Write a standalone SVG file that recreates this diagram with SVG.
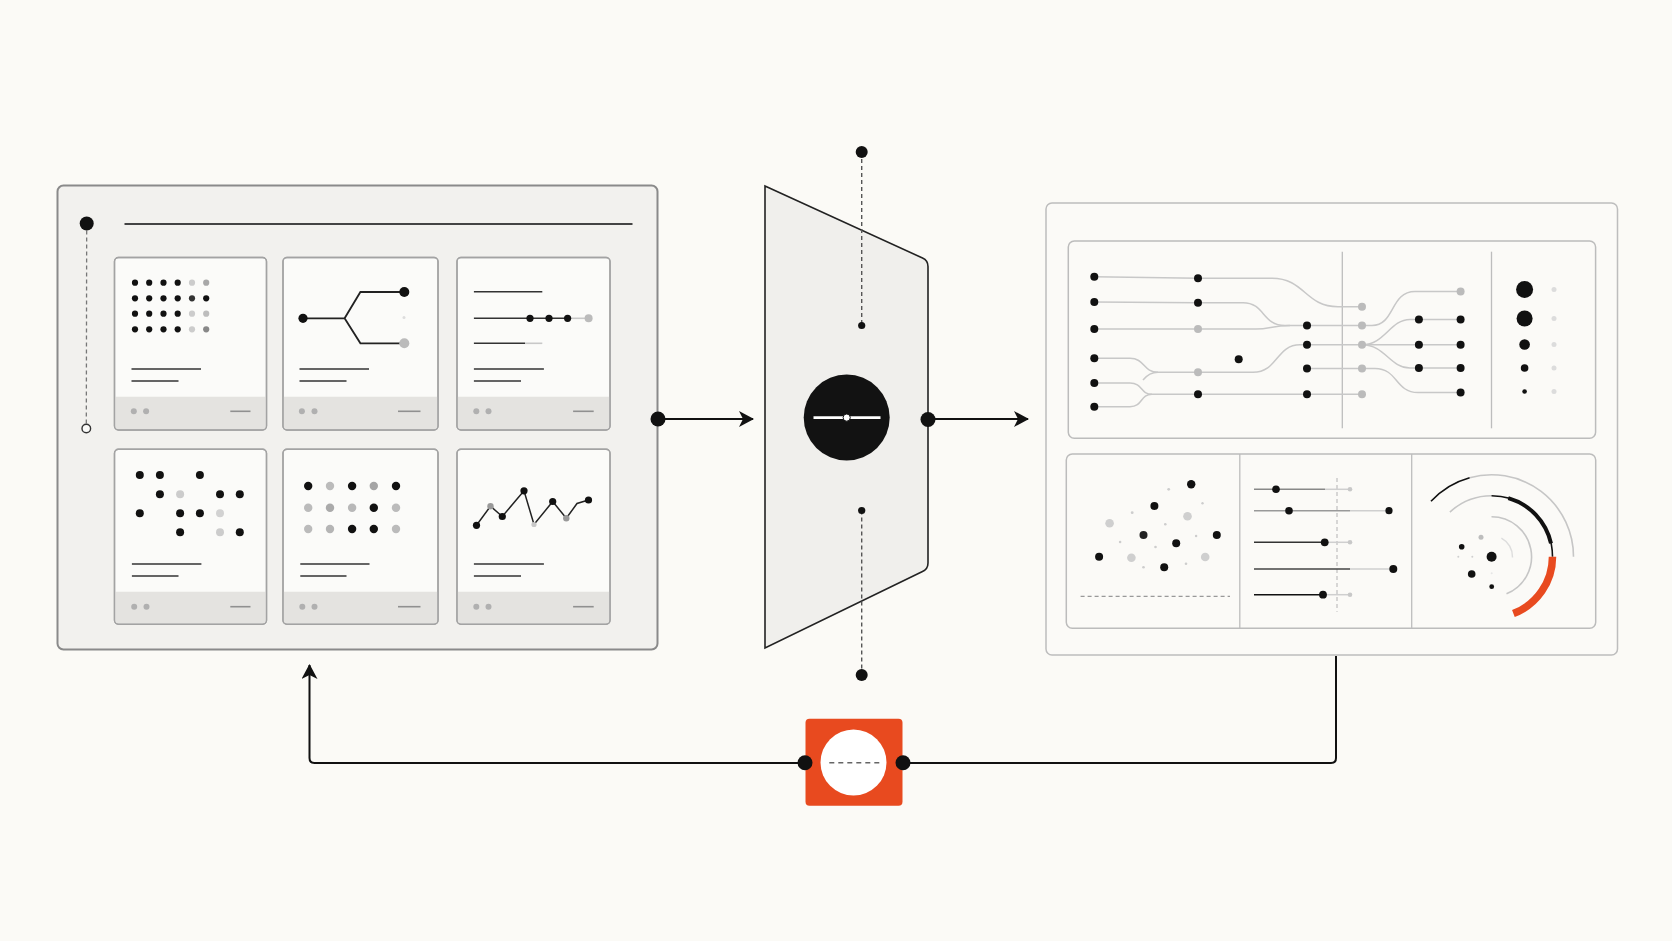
<svg xmlns="http://www.w3.org/2000/svg" width="1672" height="941" viewBox="0 0 1672 941">
<defs>
<marker id="arr" viewBox="0 0 16 16" refX="14" refY="8" markerWidth="16" markerHeight="16" markerUnits="userSpaceOnUse" orient="auto">
<path d="M0,0 L15,8 L0,16 L4,8 Z" fill="#111"/>
</marker>
<style>
.bg{fill:#fbfaf6}
.panel{fill:#f2f1ee;stroke:#8a8a8a;stroke-width:2}
.card{fill:#fbfbf9;stroke:#a3a3a3;stroke-width:1.4}
.foot{fill:#e4e3e0}
.tl{stroke:#333;stroke-width:1.6;fill:none}
.fd{fill:#b0b0b0}
.fl{stroke:#909090;stroke-width:1.6}
.k{fill:#111}
.g1{fill:#bbbbbb}
.g2{fill:#cfcfcf}
.conn{stroke:#111;stroke-width:2;fill:none}
.dash{stroke:#555;stroke-width:1.4;stroke-dasharray:4 3;fill:none}
.rp{fill:#fbfaf7;stroke:#bdbdbd;stroke-width:1.5}
.ip{fill:#fbfaf7;stroke:#bcbcbc;stroke-width:1.5}
.cv{stroke:#c8c8c8;stroke-width:1.5;fill:none}
.div{stroke:#bdbdbd;stroke-width:1.3}
</style>
</defs>
<rect class="bg" x="0" y="0" width="1672" height="941"/>

<g id="connectors">
<line class="conn" x1="658" y1="419" x2="753" y2="419" marker-end="url(#arr)"/>
<line class="conn" x1="928" y1="419" x2="1028" y2="419" marker-end="url(#arr)"/>
<path class="conn" d="M1336,656 V758 Q1336,763 1331,763 H903"/>
<path class="conn" d="M805,763 H314.5 Q309.5,763 309.5,758 V665" marker-end="url(#arr)"/>
</g>

<g id="source-panel">
<rect class="panel" x="57.5" y="185.5" width="600" height="464" rx="6"/>
<line x1="86.7" y1="223.5" x2="86.3" y2="428" stroke="#777" stroke-width="1.3" stroke-dasharray="4 3"/>
<circle class="k" cx="86.7" cy="223.5" r="7"/>
<circle cx="86.3" cy="428.5" r="4.3" fill="#fbfbf9" stroke="#333" stroke-width="1.4"/>
<line x1="124.5" y1="224" x2="632.5" y2="224" stroke="#444" stroke-width="2"/>
<circle class="k" cx="658" cy="419" r="7.5"/>
</g>

<g id="card-grid">
<rect class="card" x="114.5" y="257.5" width="152" height="172.5" rx="4"/>
<path class="foot" d="M115.2,396.7 H265.8 V426 Q265.8,429.3 262.5,429.3 H118.5 Q115.2,429.3 115.2,426 Z"/>
<rect x="114.5" y="257.5" width="152" height="172.5" rx="4" fill="none" stroke="#a3a3a3" stroke-width="1.4"/>
<g>
<circle class="k" cx="135" cy="282.7" r="3.1"/><circle class="k" cx="149.2" cy="282.7" r="3.1"/><circle class="k" cx="163.5" cy="282.7" r="3.1"/><circle class="k" cx="177.7" cy="282.7" r="3.1"/><circle fill="#cccccc" cx="192" cy="282.7" r="3.1"/><circle fill="#a8a8a8" cx="206.2" cy="282.7" r="3.1"/>
<circle class="k" cx="135" cy="298.3" r="3.1"/><circle class="k" cx="149.2" cy="298.3" r="3.1"/><circle class="k" cx="163.5" cy="298.3" r="3.1"/><circle class="k" cx="177.7" cy="298.3" r="3.1"/><circle fill="#333" cx="192" cy="298.3" r="3.1"/><circle class="k" cx="206.2" cy="298.3" r="3.1"/>
<circle class="k" cx="135" cy="313.7" r="3.1"/><circle class="k" cx="149.2" cy="313.7" r="3.1"/><circle class="k" cx="163.5" cy="313.7" r="3.1"/><circle class="k" cx="177.7" cy="313.7" r="3.1"/><circle fill="#cccccc" cx="192" cy="313.7" r="3.1"/><circle fill="#bdbdbd" cx="206.2" cy="313.7" r="3.1"/>
<circle class="k" cx="135" cy="329.3" r="3.1"/><circle class="k" cx="149.2" cy="329.3" r="3.1"/><circle class="k" cx="163.5" cy="329.3" r="3.1"/><circle class="k" cx="177.7" cy="329.3" r="3.1"/><circle fill="#cccccc" cx="192" cy="329.3" r="3.1"/><circle fill="#888" cx="206.2" cy="329.3" r="3.1"/>
</g>
<line class="tl" x1="131.5" y1="369" x2="201" y2="369"/><line class="tl" x1="131.5" y1="381" x2="178.5" y2="381"/>
<circle class="fd" cx="133.8" cy="411.3" r="3"/><circle class="fd" cx="146.1" cy="411.3" r="3"/><line class="fl" x1="230.3" y1="411.3" x2="250.5" y2="411.3"/>
</g>

<g id="card-branch">
<rect class="card" x="283" y="257.5" width="155" height="172.5" rx="4"/>
<path class="foot" d="M283.7,396.7 H437.3 V426 Q437.3,429.3 434,429.3 H287 Q283.7,429.3 283.7,426 Z"/>
<rect x="283" y="257.5" width="155" height="172.5" rx="4" fill="none" stroke="#a3a3a3" stroke-width="1.4"/>
<path d="M303,318.3 H344.6 L360.4,292 H404.3 M344.6,318.3 L360.4,343.3 H404.3" stroke="#222" stroke-width="1.8" fill="none"/>
<circle class="k" cx="303" cy="318.3" r="4.6"/>
<circle class="k" cx="404.3" cy="292" r="5"/>
<circle fill="#bbbbbb" cx="404.3" cy="343.3" r="5"/>
<circle fill="#dddddd" cx="404" cy="317.5" r="1.5"/>
<line class="tl" x1="299.5" y1="369" x2="369" y2="369"/><line class="tl" x1="299.5" y1="381" x2="346.5" y2="381"/>
<circle class="fd" cx="301.9" cy="411.3" r="3"/><circle class="fd" cx="314.5" cy="411.3" r="3"/><line class="fl" x1="398" y1="411.3" x2="420.5" y2="411.3"/>
</g>

<g id="card-rows">
<rect class="card" x="457" y="257.5" width="153" height="172.5" rx="4"/>
<path class="foot" d="M457.7,396.7 H609.3 V426 Q609.3,429.3 606,429.3 H461 Q457.7,429.3 457.7,426 Z"/>
<rect x="457" y="257.5" width="153" height="172.5" rx="4" fill="none" stroke="#a3a3a3" stroke-width="1.4"/>
<line class="tl" x1="473.9" y1="291.7" x2="542.3" y2="291.7"/>
<line class="tl" x1="473.9" y1="318.3" x2="567.6" y2="318.3"/>
<line x1="567.6" y1="318.3" x2="588.6" y2="318.3" stroke="#c8c8c8" stroke-width="1.6"/>
<circle class="k" cx="530" cy="318.3" r="3.6"/><circle class="k" cx="549" cy="318.3" r="3.6"/><circle class="k" cx="567.6" cy="318.3" r="3.6"/><circle fill="#bbbbbb" cx="588.6" cy="318.3" r="4"/>
<line class="tl" x1="473.9" y1="343.3" x2="525" y2="343.3"/>
<line x1="525" y1="343.3" x2="542.3" y2="343.3" stroke="#c8c8c8" stroke-width="1.6"/>
<line class="tl" x1="473.9" y1="369" x2="543.9" y2="369"/><line class="tl" x1="473.9" y1="381" x2="521" y2="381"/>
<circle class="fd" cx="476.3" cy="411.3" r="3"/><circle class="fd" cx="488.5" cy="411.3" r="3"/><line class="fl" x1="573.1" y1="411.3" x2="593.7" y2="411.3"/>
</g>

<g id="card-scatter">
<rect class="card" x="114.5" y="449.3" width="152" height="175" rx="4"/>
<path class="foot" d="M115.2,591.7 H265.8 V620.3 Q265.8,623.6 262.5,623.6 H118.5 Q115.2,623.6 115.2,620.3 Z"/>
<rect x="114.5" y="449.3" width="152" height="175" rx="4" fill="none" stroke="#a3a3a3" stroke-width="1.4"/>
<circle class="k" cx="139.8" cy="475" r="4"/><circle class="k" cx="159.9" cy="475" r="4"/><circle class="k" cx="199.9" cy="475" r="4"/>
<circle class="k" cx="159.9" cy="494.3" r="4"/><circle fill="#cccccc" cx="180.1" cy="494.3" r="4"/><circle class="k" cx="220" cy="494.3" r="4"/><circle class="k" cx="239.8" cy="494.3" r="4"/>
<circle class="k" cx="139.8" cy="513.3" r="4"/><circle class="k" cx="180.1" cy="513.3" r="4"/><circle class="k" cx="199.9" cy="513.3" r="4"/><circle fill="#d2d2d2" cx="220" cy="513.3" r="4"/>
<circle class="k" cx="180.1" cy="532.3" r="4"/><circle fill="#cccccc" cx="220" cy="532.3" r="4"/><circle class="k" cx="239.8" cy="532.3" r="4"/>
<line class="tl" x1="131.9" y1="564" x2="201.4" y2="564"/><line class="tl" x1="131.9" y1="576" x2="178.5" y2="576"/>
<circle class="fd" cx="134.2" cy="606.7" r="3"/><circle class="fd" cx="146.5" cy="606.7" r="3"/><line class="fl" x1="230.3" y1="606.7" x2="250.5" y2="606.7"/>
</g>

<g id="card-matrix">
<rect class="card" x="283" y="449.3" width="155" height="175" rx="4"/>
<path class="foot" d="M283.7,591.7 H437.3 V620.3 Q437.3,623.6 434,623.6 H287 Q283.7,623.6 283.7,620.3 Z"/>
<rect x="283" y="449.3" width="155" height="175" rx="4" fill="none" stroke="#a3a3a3" stroke-width="1.4"/>
<circle class="k" cx="308.2" cy="486" r="4.2"/><circle fill="#bbbbbb" cx="330" cy="486" r="4.2"/><circle class="k" cx="352.1" cy="486" r="4.2"/><circle fill="#a5a5a5" cx="373.8" cy="486" r="4.2"/><circle class="k" cx="396" cy="486" r="4.2"/>
<circle fill="#bbbbbb" cx="308.2" cy="507.7" r="4.2"/><circle fill="#aaaaaa" cx="330" cy="507.7" r="4.2"/><circle fill="#b8b8b8" cx="352.1" cy="507.7" r="4.2"/><circle class="k" cx="373.8" cy="507.7" r="4.2"/><circle fill="#bbbbbb" cx="396" cy="507.7" r="4.2"/>
<circle fill="#bbbbbb" cx="308.2" cy="529" r="4.2"/><circle fill="#b5b5b5" cx="330" cy="529" r="4.2"/><circle class="k" cx="352.1" cy="529" r="4.2"/><circle class="k" cx="373.8" cy="529" r="4.2"/><circle fill="#bbbbbb" cx="396" cy="529" r="4.2"/>
<line class="tl" x1="300.3" y1="564" x2="369.5" y2="564"/><line class="tl" x1="300.3" y1="576" x2="346.5" y2="576"/>
<circle class="fd" cx="302.3" cy="606.7" r="3"/><circle class="fd" cx="314.5" cy="606.7" r="3"/><line class="fl" x1="398" y1="606.7" x2="420.5" y2="606.7"/>
</g>

<g id="card-line">
<rect class="card" x="457" y="449.3" width="153" height="175" rx="4"/>
<path class="foot" d="M457.7,591.7 H609.3 V620.3 Q609.3,623.6 606,623.6 H461 Q457.7,623.6 457.7,620.3 Z"/>
<rect x="457" y="449.3" width="153" height="175" rx="4" fill="none" stroke="#a3a3a3" stroke-width="1.4"/>
<polyline points="476.5,525.3 490.5,506.2 502.3,516.5 524,490.8 534,524.5 552.7,501.5 566.3,518.3 577,503.5 588.5,500" fill="none" stroke="#222" stroke-width="1.5"/>
<circle class="k" cx="476.5" cy="525.3" r="3.6"/><circle fill="#999" cx="490.5" cy="506.2" r="3.2"/><circle class="k" cx="502.3" cy="516.5" r="3.6"/><circle class="k" cx="524" cy="490.8" r="3.6"/><circle fill="#c8c8c8" cx="534" cy="524.5" r="2.6"/><circle class="k" cx="552.7" cy="501.5" r="3.6"/><circle fill="#999" cx="566.3" cy="518.3" r="3.2"/><circle class="k" cx="588.5" cy="500" r="3.6"/>
<line class="tl" x1="473.9" y1="564" x2="543.9" y2="564"/><line class="tl" x1="473.9" y1="576" x2="521" y2="576"/>
<circle class="fd" cx="476.3" cy="606.7" r="3"/><circle class="fd" cx="488.5" cy="606.7" r="3"/><line class="fl" x1="573.1" y1="606.7" x2="593.7" y2="606.7"/>
</g>

<g id="transform-node">
<path d="M765,186 L922.5,258 Q928,260.5 928,266.5 L928,563 Q928,569 922.5,571.5 L765,648 Z" fill="#f0efec" stroke="#222" stroke-width="1.6"/>
<line class="dash" x1="861.7" y1="152" x2="861.7" y2="325.5"/>
<line class="dash" x1="861.7" y1="510.5" x2="861.7" y2="675"/>
<circle class="k" cx="861.7" cy="152" r="6"/>
<circle class="k" cx="861.7" cy="325.5" r="3.6"/>
<circle class="k" cx="861.7" cy="510.5" r="3.6"/>
<circle class="k" cx="861.7" cy="675" r="6"/>
<circle cx="846.7" cy="417.6" r="43" fill="#121212"/>
<line x1="813.5" y1="417.6" x2="880.5" y2="417.6" stroke="#fff" stroke-width="2.6"/>
<circle cx="846.7" cy="417.6" r="3.6" fill="#fff" stroke="#121212" stroke-width="1"/>
<circle class="k" cx="928" cy="419.5" r="7.5"/>
</g>

<g id="output-panel">
<rect class="rp" x="1046" y="203" width="571.5" height="452" rx="6"/>
<rect class="ip" x="1068.3" y="241" width="527.3" height="197.3" rx="6"/>
<line class="div" x1="1342.3" y1="251.7" x2="1342.3" y2="428.3"/>
<line class="div" x1="1491.5" y1="251.7" x2="1491.5" y2="428.3"/>
<g id="flow">
<path class="cv" d="M1094.3,276.7 L1198,278.3 L1272,278.3 C1305,278.3 1305,306.7 1338,306.7 L1362,306.7"/>
<path class="cv" d="M1094.3,302 L1198,302.7 L1243,302.7 C1265,302.7 1262,325.5 1285,325.5 L1307,325.5"/>
<path class="cv" d="M1094.3,329 L1256,329 C1270,329 1272,325.5 1290,325.5"/>
<path class="cv" d="M1094.3,358.3 L1130,358.3 C1145,358.3 1143,372.3 1158,372.3 L1253,372.3 C1278,372.3 1276,344.8 1300,344.8 L1307,344.8"/>
<path class="cv" d="M1094.3,383 L1130,383 C1143,383 1140,394.2 1152,394.2 L1362,394.2"/>
<path class="cv" d="M1094.3,406.7 L1130,406.7 C1143,406.7 1140,394.2 1152,394.2"/>
<path class="cv" d="M1143,380 C1148,374 1152,372.3 1158,372.3"/>
<path class="cv" d="M1307,325.5 L1372,325.5 C1395,325.5 1390,291.5 1415,291.5 L1460.6,291.5"/>
<path class="cv" d="M1307,344.8 L1460.6,344.8"/>
<path class="cv" d="M1362,344.8 C1385,344.8 1390,319.5 1410,319.5 L1460.6,319.5"/>
<path class="cv" d="M1362,344.8 C1385,344.8 1390,368 1410,368 L1460.6,368"/>
<path class="cv" d="M1307,368.5 L1375,368.5 C1398,368.5 1395,392.5 1418,392.5 L1460.6,392.5"/>
<g class="k">
<circle cx="1094.3" cy="276.7" r="4"/><circle cx="1094.3" cy="302" r="4"/><circle cx="1094.3" cy="329" r="4"/><circle cx="1094.3" cy="358.3" r="4"/><circle cx="1094.3" cy="383" r="4"/><circle cx="1094.3" cy="406.7" r="4"/>
<circle cx="1198" cy="278.3" r="4"/><circle cx="1198" cy="302.7" r="4"/><circle cx="1198" cy="394.2" r="4"/>
<circle cx="1238.7" cy="359.3" r="4"/>
<circle cx="1307" cy="325.5" r="4"/><circle cx="1307" cy="344.8" r="4"/><circle cx="1307" cy="368.5" r="4"/><circle cx="1307" cy="394.2" r="4"/>
<circle cx="1418.9" cy="319.5" r="4"/><circle cx="1418.9" cy="344.8" r="4"/><circle cx="1418.9" cy="368" r="4"/>
<circle cx="1460.6" cy="319.5" r="4"/><circle cx="1460.6" cy="344.8" r="4"/><circle cx="1460.6" cy="368" r="4"/><circle cx="1460.6" cy="392.5" r="4"/>
</g>
<g class="g1">
<circle cx="1198" cy="329" r="4"/><circle cx="1198" cy="372.3" r="4"/>
<circle cx="1362" cy="306.7" r="4"/><circle cx="1362" cy="325.5" r="4"/><circle cx="1362" cy="344.8" r="4"/><circle cx="1362" cy="368.5" r="4"/><circle cx="1362" cy="394.2" r="4"/>
<circle cx="1460.6" cy="291.5" r="4"/>
</g>
</g>
<g id="sizes">
<circle class="k" cx="1524.6" cy="289.5" r="8.5"/><circle class="k" cx="1524.6" cy="318.5" r="8"/><circle class="k" cx="1524.6" cy="344.5" r="5.3"/><circle class="k" cx="1524.6" cy="368" r="3.8"/><circle class="k" cx="1524.6" cy="391.5" r="2.3"/>
<g fill="#dcdcdc"><circle cx="1554" cy="289.5" r="2.5"/><circle cx="1554" cy="318.5" r="2.5"/><circle cx="1554" cy="344.5" r="2.5"/><circle cx="1554" cy="368" r="2.5"/><circle cx="1554" cy="391.5" r="2.5"/></g>
</g>

<rect class="ip" x="1066.3" y="454" width="529.4" height="174.3" rx="6"/>
<line class="div" x1="1239.8" y1="454" x2="1239.8" y2="628.3"/>
<line class="div" x1="1411.7" y1="454" x2="1411.7" y2="628.3"/>

<g id="scatter">
<g fill="#cdcdcd"><circle cx="1168.7" cy="489.3" r="1.4"/><circle cx="1202.5" cy="503.3" r="1.2"/><circle cx="1132.2" cy="512.7" r="1.4"/><circle cx="1165.3" cy="524.3" r="1.3"/><circle cx="1120.1" cy="542" r="1.3"/><circle cx="1155.5" cy="547" r="1.3"/><circle cx="1196.1" cy="536" r="1.2"/><circle cx="1143.5" cy="567.3" r="1.3"/><circle cx="1186" cy="563.7" r="1.3"/></g>
<g fill="#cfcfcf"><circle cx="1109.6" cy="523.3" r="4.3"/><circle cx="1187.5" cy="516.3" r="4.3"/><circle cx="1131.4" cy="557.7" r="4.3"/><circle cx="1205.2" cy="557" r="4.3"/></g>
<g class="k"><circle cx="1191.2" cy="484.3" r="4.2"/><circle cx="1154.4" cy="506" r="4"/><circle cx="1143.5" cy="535" r="4" fill="#222"/><circle cx="1216.8" cy="535" r="4"/><circle cx="1176.2" cy="543.3" r="4"/><circle cx="1099.1" cy="556.7" r="4"/><circle cx="1164.2" cy="567.3" r="4"/></g>
<line x1="1080.6" y1="596.3" x2="1230" y2="596.3" stroke="#999" stroke-width="1.2" stroke-dasharray="4 3"/>
</g>

<g id="lollipop">
<line x1="1337" y1="478" x2="1337" y2="611.7" stroke="#c4c4c4" stroke-width="1.3" stroke-dasharray="4 3"/>
<line x1="1254" y1="489.3" x2="1325" y2="489.3" stroke="#888" stroke-width="1.5"/><line x1="1325" y1="489.3" x2="1350" y2="489.3" stroke="#cfcfcf" stroke-width="1.5"/>
<circle class="k" cx="1276" cy="489.3" r="3.8"/><circle fill="#c8c8c8" cx="1350" cy="489.3" r="2.3"/>
<line x1="1254" y1="510.7" x2="1350" y2="510.7" stroke="#999" stroke-width="1.5"/><line x1="1350" y1="510.7" x2="1389" y2="510.7" stroke="#cfcfcf" stroke-width="1.5"/>
<circle class="k" cx="1289" cy="510.7" r="3.8"/><circle class="k" cx="1389" cy="510.7" r="3.6"/>
<line x1="1254" y1="542.3" x2="1324.7" y2="542.3" stroke="#333" stroke-width="1.6"/><line x1="1324.7" y1="542.3" x2="1350" y2="542.3" stroke="#cfcfcf" stroke-width="1.5"/>
<circle class="k" cx="1324.7" cy="542.3" r="3.9"/><circle fill="#c8c8c8" cx="1350" cy="542.3" r="2.3"/>
<line x1="1254" y1="569" x2="1350" y2="569" stroke="#444" stroke-width="1.6"/><line x1="1350" y1="569" x2="1393" y2="569" stroke="#cfcfcf" stroke-width="1.5"/>
<circle class="k" cx="1393.3" cy="569" r="4"/>
<line x1="1254" y1="594.7" x2="1323" y2="594.7" stroke="#111" stroke-width="1.6"/><line x1="1323" y1="594.7" x2="1350" y2="594.7" stroke="#cfcfcf" stroke-width="1.5"/>
<circle class="k" cx="1323" cy="594.7" r="3.9"/><circle fill="#c8c8c8" cx="1350" cy="594.7" r="2.3"/>
</g>

<g id="radial" fill="none">
<path d="M1469.6,477.7 A82,82 0 0 1 1573.5,556.7" stroke="#c6c6c6" stroke-width="1.6"/>
<path d="M1431,501.3 A82,82 0 0 1 1469.6,477.7" stroke="#111" stroke-width="1.6"/>
<path d="M1449.9,512.1 A61,61 0 0 1 1491.5,495.7" stroke="#c6c6c6" stroke-width="1.6"/>
<path d="M1491.5,495.7 A61,61 0 0 1 1552.5,556.7" stroke="#111" stroke-width="1.6"/>
<path d="M1508.3,498.1 A61,61 0 0 1 1551,543.4" stroke="#111" stroke-width="4"/>
<path d="M1552.5,556.7 A61,61 0 0 1 1513.4,613.6" stroke="#e84a1f" stroke-width="7.5"/>
<path d="M1491.5,516.7 A40,40 0 0 1 1506.5,593.8" stroke="#c6c6c6" stroke-width="1.6"/>
<path d="M1501.4,538.2 A21,21 0 0 1 1512.5,557.4" stroke="#dddddd" stroke-width="1.5"/>
<circle class="k" cx="1491.6" cy="556.7" r="5"/>
<circle class="k" cx="1461.7" cy="546.7" r="2.8"/>
<circle fill="#bdbdbd" cx="1481" cy="537.3" r="2.5"/>
<circle class="k" cx="1471.7" cy="574" r="3.8"/>
<circle class="k" cx="1491.7" cy="586.7" r="2.4"/>
<circle fill="#cfcfcf" cx="1458.3" cy="556.7" r="1"/>
<circle fill="#cfcfcf" cx="1472.3" cy="556.7" r="1"/>
<circle fill="#e6e6e6" cx="1491.7" cy="573.3" r="1"/>
</g>
</g>

<g id="feedback-node">
<rect x="805.5" y="718.7" width="97" height="87" rx="4" fill="#e84a1f"/>
<circle cx="853.5" cy="762.5" r="33" fill="#ffffff"/>
<line x1="829.3" y1="762.7" x2="879.3" y2="762.7" stroke="#666" stroke-width="1.6" stroke-dasharray="5 4"/>
<circle class="k" cx="805" cy="762.7" r="7.5"/>
<circle class="k" cx="903" cy="762.7" r="7.5"/>
</g>
</svg>
